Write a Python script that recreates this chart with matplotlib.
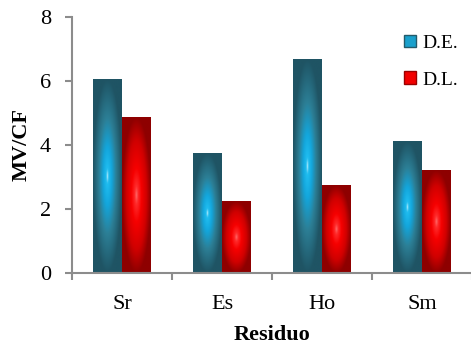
import matplotlib
matplotlib.use('Agg')
from matplotlib import pyplot as plt
from matplotlib.colors import LinearSegmentedColormap
from matplotlib.patches import Patch
import numpy as np

## Data
categories = ['Sr', 'Es', 'Ho', 'Sm']
de_values = [6.05, 3.72, 6.67, 4.10]
dl_values = [4.85, 2.22, 2.72, 3.19]
series_names = ['D.E.', 'D.L.']
y_ticks = [0, 2, 4, 6, 8]

plt.rcParams['font.family'] = ['Liberation Serif', 'DejaVu Serif']

teal_map = LinearSegmentedColormap.from_list('teal', [
    (0.0, '#c8f0fc'), (0.08, '#20bdf0'), (0.3, '#13a6dc'),
    (0.6, '#2c7f96'), (1.0, '#1f5464')])
red_map = LinearSegmentedColormap.from_list('red', [
    (0.0, '#ff6a6a'), (0.12, '#ff2a2a'), (0.35, '#f60000'),
    (0.7, '#d00000'), (1.0, '#8e0000')])


def gradient_fill(ax, bars, cmap):
    # elliptical "path" gradient inside each bar, like the Excel fill
    u = np.linspace(-1, 1, 60)
    v = np.linspace(-1, 1, 200)
    U, V = np.meshgrid(u, v)
    d = np.clip(np.sqrt(U ** 2 + V ** 2), 0, 1)
    for b in bars:
        x0 = b.get_x()
        ax.imshow(d, cmap=cmap, vmin=0, vmax=1, aspect='auto', interpolation='bilinear',
                  extent=(x0, x0 + b.get_width(), 0, b.get_height()), zorder=2)


fig = plt.figure(figsize=(4.71, 3.49), dpi=100)
ax = fig.add_axes([0.1529, 0.2178, 0.849, 0.7335])

x = np.arange(len(categories))
w = 0.29
bars_de = ax.bar(x - w / 2, de_values, w, color='none', edgecolor='none')
bars_dl = ax.bar(x + w / 2, dl_values, w, color='none', edgecolor='none')
gradient_fill(ax, bars_de, teal_map)
gradient_fill(ax, bars_dl, red_map)

ax.set_xlim(-0.5, len(categories) - 0.5)
ax.set_ylim(0, 8)
ax.set_yticks(y_ticks)
ax.set_xticks(x)
ax.set_xticklabels(categories)
ax.set_xticks(np.arange(-0.5, len(categories), 1.0), minor=True)

for s in ['top', 'right']:
    ax.spines[s].set_visible(False)
for s in ['left', 'bottom']:
    ax.spines[s].set_color('#8c8c8c')
    ax.spines[s].set_linewidth(1.5)

ax.tick_params(axis='x', which='major', length=0, pad=16, labelsize=16)
ax.tick_params(axis='x', which='minor', length=5, width=1.5, color='#8c8c8c')
ax.tick_params(axis='y', length=5, width=1.5, color='#8c8c8c', pad=10, labelsize=16)

ax.set_xlabel('Residuo', fontsize=16, fontweight='bold', labelpad=8)
ax.set_ylabel('MV/CF', fontsize=16, fontweight='bold', labelpad=6)

handles = [Patch(facecolor='#1aa0cc', edgecolor='#235a6a', linewidth=1.0),
           Patch(facecolor='#f20000', edgecolor='#9a0000', linewidth=1.0)]
ax.legend(handles, series_names, loc='upper right', bbox_to_anchor=(1.01, 0.998),
          frameon=False, fontsize=14, handlelength=0.6, handleheight=0.6,
          handletextpad=0.35, labelspacing=1.0)

fig.savefig('out.png', dpi=100)
